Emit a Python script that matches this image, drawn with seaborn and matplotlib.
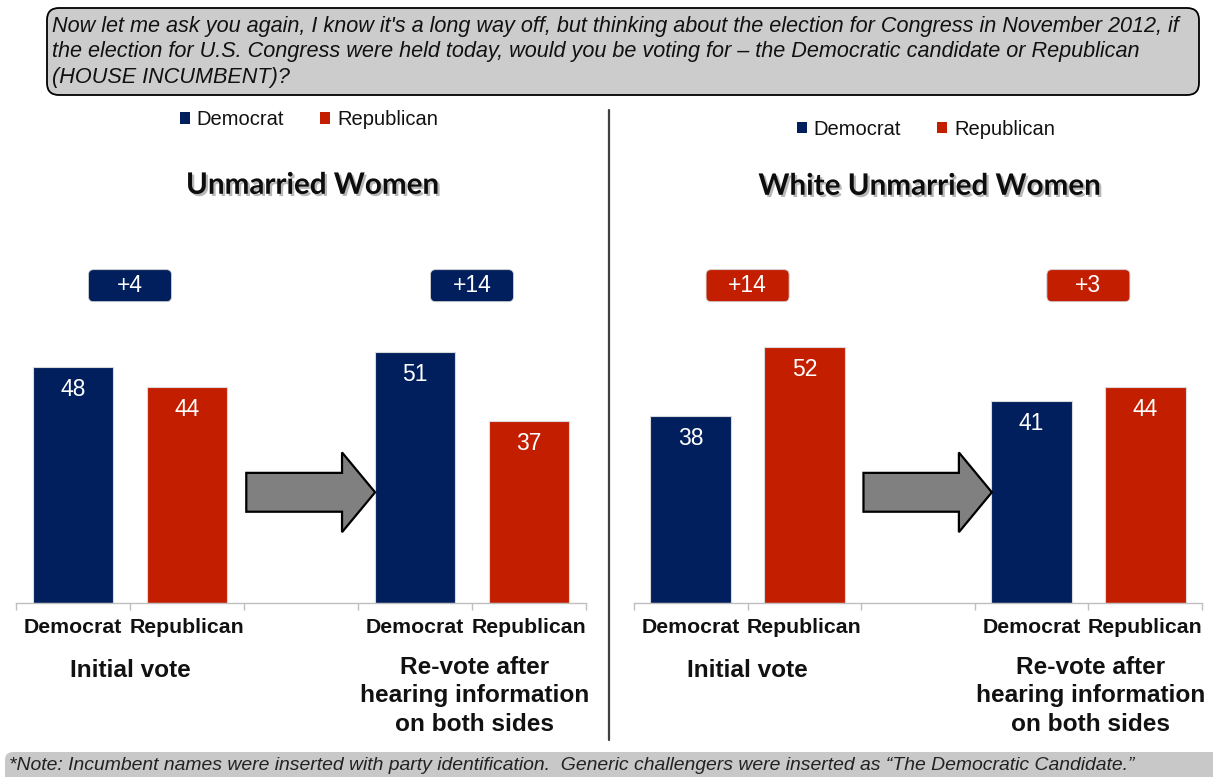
import matplotlib
matplotlib.use("Agg")
import matplotlib.pyplot as plt
import matplotlib.patheffects as pe
from matplotlib.patches import FancyBboxPatch, FancyArrow, Patch
from matplotlib.transforms import ScaledTranslation
import pandas as pd
import seaborn as sns

# ---- data -------------------------------------------------------------
panels = ["Unmarried Women", "White Unmarried Women"]
rounds = ["Initial vote", "Re-vote after\nhearing information\non both sides"]
parties = ["Democrat", "Republican"]
unmarried_dem = [48, 51]
unmarried_rep = [44, 37]
white_unmarried_dem = [38, 41]
white_unmarried_rep = [52, 44]

question = ("Now let me ask you again, I know it's a long way off, but thinking about the election for Congress in November 2012, if\n"
            "the election for U.S. Congress were held today, would you be voting for \u2013 the Democratic candidate or Republican\n"
            "(HOUSE INCUMBENT)?")
note = ("*Note: Incumbent names were inserted with party identification.  Generic challengers were inserted as "
        "\u201cThe Democratic Candidate.\u201d")

NAVY = "#001f5c"
RED = "#c41e00"
palette = {"Democrat": NAVY, "Republican": RED}

sns.set_theme(style="white")
plt.rcParams["font.family"] = ["Liberation Sans", "DejaVu Sans"]

W, H, DPI = 1213, 777, 100
fig = plt.figure(figsize=(W / DPI, H / DPI), dpi=DPI)
fig.patch.set_facecolor("white")

GAP = "gap"
order = [f"{rounds[0]}|Democrat", f"{rounds[0]}|Republican", GAP,
         f"{rounds[1]}|Democrat", f"{rounds[1]}|Republican"]
tick_labels = ["Democrat", "Republican", "", "Democrat", "Republican"]


def build_frame(dem, rep):
    rows = []
    for i, r in enumerate(rounds):
        rows.append({"slot": f"{r}|Democrat", "party": "Democrat", "value": dem[i], "round": i})
        rows.append({"slot": f"{r}|Republican", "party": "Republican", "value": rep[i], "round": i})
    return pd.DataFrame(rows)


def margin_box(ax, xc, yc, text, color):
    w, h, r = 0.83, 0.32, 0.05
    tr = fig.dpi_scale_trans + ScaledTranslation(xc, yc, ax.transData)
    box = FancyBboxPatch((-w / 2 + r, -h / 2 + r), w - 2 * r, h - 2 * r,
                         boxstyle=f"round,pad={r}", transform=tr,
                         fc=color, ec="#d0d0d0", lw=0.6, clip_on=False, zorder=5)
    ax.add_patch(box)
    ax.text(xc, yc, text, ha="center", va="center", color="white",
            fontsize=16.5, zorder=6)


def draw_panel(rect, title, dem, rep, legend_y, title_y):
    ax = fig.add_axes(rect)
    df = build_frame(dem, rep)
    sns.barplot(data=df, x="slot", y="value", hue="party", order=order,
                palette=palette, dodge=False, width=0.71, legend=False,
                saturation=1, edgecolor="#d9d9d9", linewidth=0.8, ax=ax)
    ax.set_xlim(-0.5, 4.5)
    ax.set_ylim(0, 100)
    ax.set_xlabel("")
    ax.set_ylabel("")
    ax.set_yticks([])
    for s in ["top", "left", "right"]:
        ax.spines[s].set_visible(False)
    ax.spines["bottom"].set_color("#bfbfbf")
    ax.spines["bottom"].set_linewidth(1.0)
    ax.set_xticks(range(5))
    ax.set_xticklabels(tick_labels, fontsize=15.3, fontweight="bold", color="#111111")
    ax.set_xticks([-0.5, 0.5, 1.5, 2.5, 3.5, 4.5], minor=True)
    ax.tick_params(axis="x", which="major", length=0, pad=11)
    ax.tick_params(axis="x", which="minor", length=5, width=1.0, color="#bfbfbf",
                   direction="out", bottom=True)

    # value labels inside the bars
    pos = {k: i for i, k in enumerate(order)}
    for _, row in df.iterrows():
        ax.text(pos[row["slot"]], row["value"] - 4.6, f"{row['value']}",
                ha="center", va="center", color="white", fontsize=16.5, zorder=4)

    # lead boxes above each round
    for i, xc in enumerate([0.5, 3.5]):
        m = dem[i] - rep[i]
        margin_box(ax, xc, 64.5, f"+{abs(m)}", NAVY if m > 0 else RED)

    # arrow between rounds
    arrow = FancyArrow(1.52, 22.5, 2.65 - 1.52, 0, width=7.9, head_width=16.2,
                       head_length=0.29, length_includes_head=True,
                       fc="#808080", ec="black", lw=1.6, zorder=3, clip_on=False)
    ax.add_patch(arrow)

    # round labels under the axis
    ax.text(0.5, -13.8, rounds[0], ha="center", va="center", fontsize=17.6,
            fontweight="bold", color="#111111", clip_on=False)
    ax.text(3.52, -18.9, rounds[1], ha="center", va="center", fontsize=17.6,
            fontweight="bold", color="#111111", linespacing=1.33, clip_on=False)

    # panel title with drop shadow
    ax.text(2.1, title_y, title, ha="center", va="center", fontsize=21.3,
            fontweight="bold", family=["Lato", "DejaVu Sans"], color="#0d0d0d",
            path_effects=[pe.SimplePatchShadow(offset=(1.6, -1.6),
                                               shadow_rgbFace="#7f7f7f", alpha=0.55),
                          pe.Normal()])

    handles = [Patch(fc=palette[p], ec="none") for p in parties]
    leg = ax.legend(handles, parties, loc="center", ncol=2, frameon=False,
                    bbox_to_anchor=(2.07, legend_y),
                    bbox_transform=ax.transData, fontsize=14.5, handlelength=0.5,
                    handleheight=0.5, handletextpad=0.35, columnspacing=1.8)
    for t in leg.get_texts():
        t.set_color("#111111")
    return ax


ax_bottom = (H - 603) / H
ax_h = 492 / H
draw_panel([16 / W, ax_bottom, 570 / W, ax_h], panels[0],
           unmarried_dem, unmarried_rep, legend_y=98.2, title_y=85.0)
draw_panel([634 / W, ax_bottom, 568 / W, ax_h], panels[1],
           white_unmarried_dem, white_unmarried_rep, legend_y=96.3, title_y=84.8)

# divider between the two panels
fig.add_artist(plt.Line2D([609 / W, 609 / W], [(H - 740) / H, (H - 110) / H],
                          transform=fig.transFigure, color="#404040", lw=1.6))

# question box
qbox = FancyBboxPatch((0.47 + 0.12, (H - 95) / 100 + 0.12), 11.52 - 0.24, 0.87 - 0.24,
                      boxstyle="round,pad=0.12", transform=fig.dpi_scale_trans,
                      fc="#cccccc", ec="black", lw=1.3)
fig.add_artist(qbox)
fig.text(52 / W, (H - 52) / H, question, ha="left", va="center", fontsize=15.6,
         style="italic", color="#111111", linespacing=1.3)

# footnote strip
nbox = FancyBboxPatch((0.05 + 0.08, -0.42), 12.5, 0.59,
                      boxstyle="round,pad=0.08", transform=fig.dpi_scale_trans,
                      fc="#c8c8c8", ec="none")
fig.add_artist(nbox)
fig.text(9 / W, (H - 765) / H, note, ha="left", va="center", fontsize=13.95,
         style="italic", color="#222222")

fig.savefig("out.png", dpi=DPI, facecolor="white")
